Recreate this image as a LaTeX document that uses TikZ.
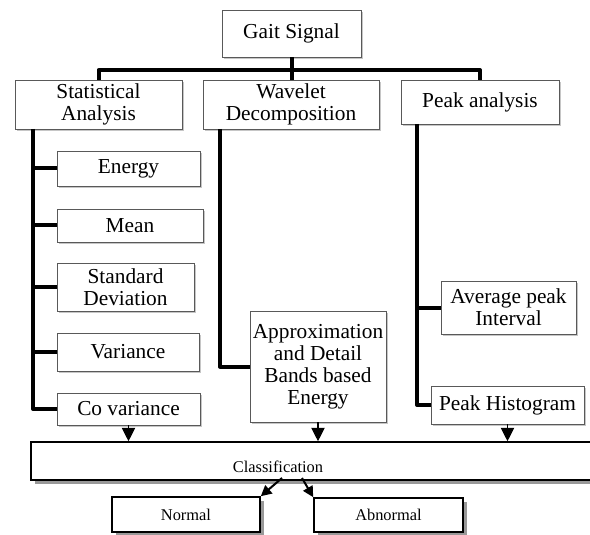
\documentclass[tikz,border=0pt]{standalone}
\usepackage{fontspec}
\setmainfont{Liberation Serif}
\usetikzlibrary{arrows.meta,shadows}

\tikzset{
  box/.style={draw=gray!70!black, fill=white, line width=0.6pt, align=center, inner sep=1pt,
    font=\fontsize{16}{16.5}\selectfont,
    drop shadow={opacity=0.45, shadow xshift=1.8pt, shadow yshift=-1.8pt}},
  outbox/.style={draw=black, fill=white, line width=1.2pt, align=center, inner sep=1pt,
    font=\fontsize{12.3}{14}\selectfont,
    drop shadow={fill=gray!80, opacity=1, shadow xshift=3pt, shadow yshift=-3pt}},
  trunk/.style={line width=3pt, line join=round},
  downarrow/.style={-{Triangle[width=10pt,length=10pt]}, line width=0.8pt},
  outarrow/.style={-{Triangle[width=8pt,length=8pt]}, line width=1.5pt},
}

\begin{document}
\begin{tikzpicture}[x=0.75pt,y=-0.75pt]
    \useasboundingbox (0,0) rectangle (590,535);

    % 顶部信号框
    \node[box, minimum width=104.25pt, minimum height=35.25pt] (gait) at (291.5,33.5) {Gait Signal};

    % 三种分析方法
    \node[box, minimum width=125.25pt, minimum height=36.75pt] (stat) at (98.5,104.5) {Statistical\\Analysis};
    \node[box, minimum width=132pt, minimum height=36.75pt] (wave) at (291,104.5) {Wavelet\\Decomposition};
    \node[box, minimum width=118.5pt, minimum height=33pt] (peak) at (480,102) {Peak analysis};

    % 统计特征
    \node[box, minimum width=107.25pt, minimum height=26.25pt] (energy) at (128.5,168.5) {Energy};
    \node[box, minimum width=109.5pt, minimum height=24.75pt] (mean) at (130,225.5) {Mean};
    \node[box, minimum width=102.75pt, minimum height=36pt] (std) at (125.5,287) {Standard\\Deviation};
    \node[box, minimum width=106.5pt, minimum height=28.5pt] (var) at (128,352) {Variance};
    \node[box, minimum width=107.25pt, minimum height=24pt] (cov) at (128.5,409) {Co variance};

    % 小波与峰值特征
    \node[box, minimum width=102pt, minimum height=83.25pt] (approx) at (318,366.5) {Approximation\\and Detail\\Bands based\\Energy};
    \node[box, minimum width=101.25pt, minimum height=39.75pt] (avg) at (508.5,307.5) {Average peak\\Interval};
    \node[box, minimum width=114.75pt, minimum height=28.5pt] (hist) at (507.5,405) {Peak Histogram};

    % 分类与结果
    \node[outbox, anchor=west, minimum width=427.5pt, minimum height=28.5pt] (cls) at (30,461) {};
    \node[font=\fontsize{12.3}{14}\selectfont] (clstext) at (278,467) {Classification};
    \node[outbox, minimum width=111pt, minimum height=26.25pt] (norm) at (186,514.5) {Normal};
    \node[outbox, minimum width=111.75pt, minimum height=25.5pt] (abn) at (388.5,515) {Abnormal};

    % 树形连线
    \coordinate (barR) at (480,70);
    \draw[trunk] (stat.north) |- (barR) -- (peak.north);
    \draw[trunk] (gait.south) -- (gait.south |- wave.north);

    \coordinate (spine) at (33,129);
    \draw[trunk] (spine) |- (cov.west);
    \foreach \n in {energy,mean,std,var}
        \draw[trunk] (spine |- \n.west) -- (\n.west);

    \coordinate (wspine) at (220,129);
    \draw[trunk] (wspine) |- (approx.west);

    \coordinate (pspine) at (417,124);
    \draw[trunk] (pspine) |- (hist.west);
    \draw[trunk] (pspine |- avg.west) -- (avg.west);

    % 汇入分类的箭头
    \draw[downarrow] (cov.south) -- (cov.south |- cls.north);
    \draw[downarrow] (approx.south) -- (approx.south |- cls.north);
    \draw[downarrow] (hist.south) -- (hist.south |- cls.north);

    % 分类结果箭头
    \coordinate (toN) at (282,478);
    \coordinate (toA) at (302,478);
    \draw[outarrow] (toN) -- (norm.north east);
    \draw[outarrow] (toA) -- (abn.north west);

\end{tikzpicture}
\end{document}
